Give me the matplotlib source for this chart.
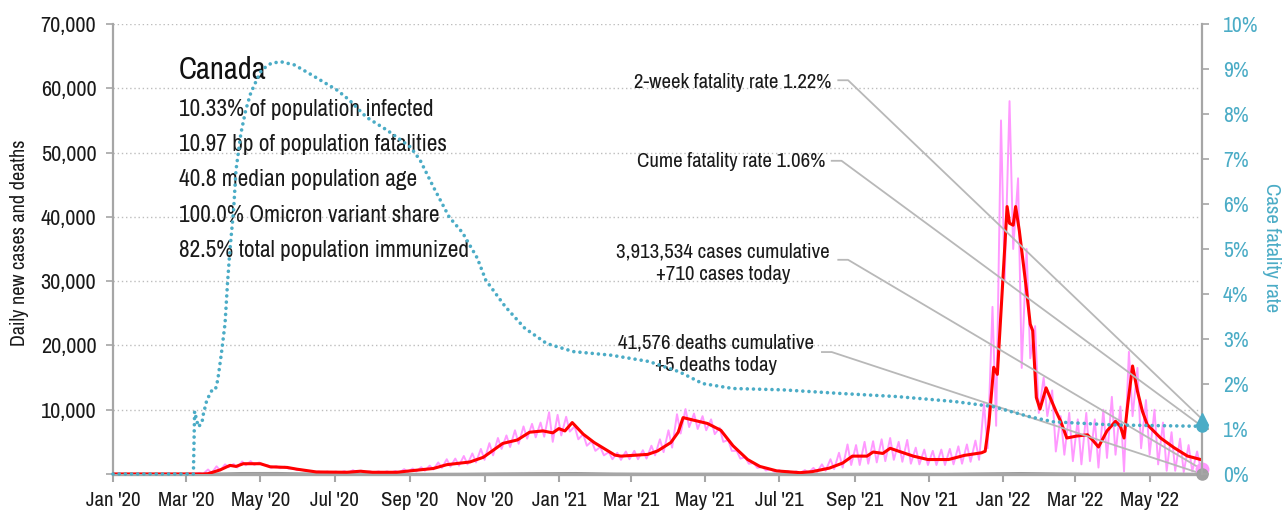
import matplotlib
matplotlib.use('Agg')
import matplotlib.pyplot as plt
import matplotlib.dates as mdates
import matplotlib.ticker as mticker
import pandas as pd

plt.rcParams['font.family'] = ['Archivo Narrow', 'Roboto Condensed', 'DejaVu Sans']

# --- данные ---
# 7-day average of new cases
red_dates = ['2020-01-01', '2020-03-15', '2020-03-19', '2020-03-29', '2020-04-06', '2020-04-11',
             '2020-04-17', '2020-05-01', '2020-05-09', '2020-05-23', '2020-05-31', '2020-06-16',
             '2020-07-11', '2020-07-22', '2020-08-01', '2020-08-21', '2020-09-03', '2020-09-20',
             '2020-10-01', '2020-10-20', '2020-10-31', '2020-11-16', '2020-11-28', '2020-12-08',
             '2020-12-19', '2020-12-27', '2021-01-01', '2021-01-06', '2021-01-12', '2021-01-21',
             '2021-01-30', '2021-02-16', '2021-02-21', '2021-03-15', '2021-03-23', '2021-04-03',
             '2021-04-09', '2021-04-13', '2021-04-21', '2021-05-03', '2021-05-14', '2021-05-24',
             '2021-06-05', '2021-06-15', '2021-06-29', '2021-07-18', '2021-07-28', '2021-08-11',
             '2021-08-22', '2021-08-30', '2021-09-11', '2021-09-16', '2021-09-24', '2021-09-30',
             '2021-10-08', '2021-10-19', '2021-10-31', '2021-11-17', '2021-11-30', '2021-12-14',
             '2021-12-17', '2021-12-20', '2021-12-24', '2021-12-27', '2021-12-31', '2022-01-04',
             '2022-01-06', '2022-01-09', '2022-01-11', '2022-01-14', '2022-01-20', '2022-01-23',
             '2022-01-25', '2022-01-28', '2022-01-31', '2022-02-05', '2022-02-13', '2022-02-17',
             '2022-02-22', '2022-03-02', '2022-03-11', '2022-03-16', '2022-03-20', '2022-03-27',
             '2022-04-03', '2022-04-07', '2022-04-10', '2022-04-13', '2022-04-17', '2022-04-21',
             '2022-04-25', '2022-04-29', '2022-05-10', '2022-05-21', '2022-06-01', '2022-06-13']
red_vals = [0, 0, 50, 640, 1340, 1180,
            1600, 1600, 1120, 1020, 750, 320,
            270, 430, 270, 270, 530, 860,
            1450, 1870, 2600, 4760, 5300, 6500,
            6700, 6400, 7060, 6700, 8000, 6200,
            4900, 2940, 2780, 3050, 3580, 4900,
            6500, 8770, 8400, 7860, 6800, 4390,
            2250, 1180, 480, 210, 370, 910,
            1700, 2780, 2780, 3420, 3200, 4000,
            3480, 2780, 2250, 2250, 2900, 3300,
            3540, 7700, 16600, 15500, 28500, 41600,
            39000, 38700, 41600, 37900, 28500, 23300,
            22300, 11900, 10100, 13400, 9800, 8200,
            5600, 5900, 6100, 5100, 4200, 6700,
            8200, 7400, 5600, 10800, 16800, 12900,
            9800, 7700, 5600, 4100, 2800, 2200]

# daily new cases: weekly high (Thursday) and low (Sunday), weeks from 2020-01-05
pink_hi = [0, 0, 0, 5, 5, 3, 3, 5,
           10, 40, 180, 700, 1200,
           1500, 1550, 1950, 2000,
           1800, 1350, 1250, 1150, 900,
           650, 450, 400, 380,
           380, 450, 600, 520,
           400, 420, 420, 480, 750,
           850, 1050, 1300, 1800,
           2300, 2400, 2800, 3200,
           3900, 4800, 5600, 6000, 6800,
           7400, 7800, 8000, 9600,
           9200, 8900, 7400, 6200, 5100,
           4200, 3400, 3300, 3500,
           3600, 3700, 4400, 5400,
           6800, 9300, 10100, 9400,
           9000, 8500, 7200, 5300, 3600,
           2600, 1700, 1100, 750,
           600, 480, 420, 600,
           950, 1500, 2300, 3300, 4600,
           4500, 5000, 5100, 5400,
           5600, 5000, 5300, 4100, 3800,
           3600, 3800, 3900, 4300,
           4600, 5200, 11000, 26000,
           55000, 58000, 46000, 35000, 23000,
           15000, 13000, 9000, 9500,
           8500, 9500, 8500, 10000,
           12000, 10500, 19000, 16500,
           11500, 10000, 8000, 6500, 5500,
           4500, 3500]
pink_lo = [0, 0, 0, 0, 0, 0, 0, 0,
           0, 5, 20, 150, 550,
           1050, 1000, 1350, 1400,
           1400, 950, 900, 850, 600,
           450, 280, 200, 180,
           180, 180, 280, 300,
           200, 180, 200, 200, 350,
           380, 500, 700, 950,
           1150, 1300, 1500, 1800,
           2200, 2900, 3900, 4200, 4700,
           5500, 5700, 5800, 5000,
           6000, 6600, 5400, 4400, 3600,
           2900, 2300, 2200, 2300,
           2300, 2400, 2900, 3400,
           4100, 6300, 7300, 7000,
           6800, 6200, 5000, 3600, 2400,
           1600, 950, 550, 330,
           180, 140, 110, 180,
           300, 500, 750, 1000, 1400,
           1400, 1600, 1800, 2000,
           2200, 1900, 1600, 1500, 1400,
           1400, 1400, 1500, 1600,
           1900, 2200, 4000, 7500,
           30000, 35000, 16500, 18000, 9500,
           9000, 3500, 3000, 2000,
           1500, 2000, 1000, 2500,
           3000, 400, 9000, 4000,
           3000, 1500, 500, 500, 300,
           400, 700]

# daily deaths (gray, monthly reading)
death_dates = ['2020-01-01', '2020-03-15', '2020-04-15', '2020-05-15', '2020-06-15', '2020-07-15',
               '2020-09-15', '2020-10-15', '2020-11-15', '2020-12-15', '2021-01-15', '2021-02-15',
               '2021-03-15', '2021-05-15', '2021-06-15', '2021-08-15', '2021-09-15', '2021-11-15',
               '2022-01-15', '2022-02-15', '2022-03-15', '2022-05-15', '2022-06-13']
death_vals = [0, 10, 150, 160, 50, 10, 8, 25, 80, 120, 150, 60, 35, 40, 20, 10, 35, 20, 150, 80,
              40, 60, 5]

# case fatality rate, %
cfr_dates = ['2020-01-01', '2020-03-07', '2020-03-08', '2020-03-11', '2020-03-14', '2020-03-15',
             '2020-03-18', '2020-03-22', '2020-03-25', '2020-03-27', '2020-03-30', '2020-04-02',
             '2020-04-04', '2020-04-06', '2020-04-09', '2020-04-11', '2020-04-15', '2020-04-19',
             '2020-04-23', '2020-04-28', '2020-05-02', '2020-05-10', '2020-05-18', '2020-05-29',
             '2020-06-12', '2020-07-03', '2020-07-13', '2020-07-27', '2020-08-13', '2020-09-01',
             '2020-09-09', '2020-09-20', '2020-10-03', '2020-10-14', '2020-10-26', '2020-11-02',
             '2020-11-18', '2020-12-04', '2020-12-22', '2021-01-13', '2021-02-13', '2021-03-16',
             '2021-04-10', '2021-04-29', '2021-05-24', '2021-07-04', '2021-08-20', '2021-10-06',
             '2021-11-22', '2021-12-23', '2022-01-23', '2022-02-11', '2022-04-01', '2022-06-13']
cfr_vals = [0.0, 0.0, 1.39, 1.05, 1.13, 1.31,
            1.64, 1.85, 1.87, 2.09, 2.68, 3.35,
            4.24, 4.98, 5.87, 6.76, 7.57, 8.09,
            8.46, 8.76, 8.98, 9.13, 9.16, 9.09,
            8.87, 8.53, 8.31, 7.93, 7.64, 7.27,
            6.98, 6.38, 5.71, 5.36, 4.80, 4.31,
            3.72, 3.24, 2.90, 2.72, 2.64, 2.50,
            2.27, 2.01, 1.90, 1.87, 1.79, 1.72,
            1.61, 1.50, 1.27, 1.16, 1.09, 1.06]

last_day = '2022-06-13'
cases_today = 710
deaths_today = 5
cfr_2wk = 1.22
cfr_cume = 1.06

info_lines = ['10.33% of population infected', '10.97 bp of population fatalities',
              '40.8 median population age', '100.0% Omicron variant share',
              '82.5% total population immunized']

PINK = '#ff99ff'
RED = '#ff0000'
TEAL = '#4bacc6'
GRAY = '#a6a6a6'
LEAD = '#b8b8b8'
INK = '#1a1a1a'

# daily series: hi on Thursday, lo on Sunday
weeks = pd.date_range('2020-01-05', periods=len(pink_lo), freq='7D')
pink_x, pink_y = [], []
for w, hi, lo in zip(weeks, pink_hi, pink_lo):
    pink_x += [w - pd.Timedelta(days=3), w]
    pink_y += [hi, lo]
pink_x.append(pd.Timestamp(last_day))
pink_y.append(cases_today)

fig = plt.figure(figsize=(12.82, 5.11), dpi=100)
ax = fig.add_axes([113 / 1282, 1 - 474 / 511, 1089 / 1282, 450 / 511])
ax2 = ax.twinx()

ax.plot(pink_x, pink_y, color=PINK, lw=1.4, zorder=2)
ax.plot(pd.to_datetime(red_dates), red_vals, color=RED, lw=2.2, zorder=3)
ax.plot(pd.to_datetime(death_dates), death_vals, color='#9a9a9a', lw=1.5, zorder=2)
ax2.plot(pd.to_datetime(cfr_dates), cfr_vals, color=TEAL, lw=2.6,
         linestyle=(0, (0.01, 1.7)), dash_capstyle='round', clip_on=False)

end = pd.Timestamp(last_day)
ax.set_xlim(pd.Timestamp('2020-01-01'), end)
ax.set_ylim(0, 70000)
ax2.set_ylim(0, 10)

# end markers
ax.plot([end], [cases_today], 'o', color=PINK, ms=9, clip_on=False, zorder=6)
ax.plot([end], [deaths_today], 'o', color='#a0a0a0', ms=8, clip_on=False, zorder=7)
ax2.plot([end], [cfr_2wk], '^', color=TEAL, ms=8, clip_on=False, zorder=6)
ax2.plot([end], [cfr_cume], 'o', color=TEAL, ms=8, clip_on=False, zorder=6)

# axes styling
ax.xaxis.set_major_locator(mdates.MonthLocator(bymonth=[1, 3, 5, 7, 9, 11]))
ax.xaxis.set_major_formatter(mdates.DateFormatter("%b '%y"))
ax.set_yticks(range(0, 70001, 10000))
ax.yaxis.set_major_formatter(mticker.FuncFormatter(lambda v, p: '' if v == 0 else f'{int(v):,}'))
ax2.set_yticks(range(0, 11))
ax2.yaxis.set_major_formatter(mticker.FuncFormatter(lambda v, p: f'{int(v)}%'))

ax.yaxis.grid(True, linestyle=(0, (1, 2)), color='#bdbdbd', lw=1)
ax.set_axisbelow(True)

for s in ['top', 'right']:
    ax.spines[s].set_visible(False)
for s in ['top', 'left', 'bottom']:
    ax2.spines[s].set_visible(False)
ax.spines['bottom'].set_color(GRAY)
ax.spines['bottom'].set_linewidth(2.4)
ax.spines['left'].set_color(GRAY)
ax.spines['left'].set_linewidth(1.6)
ax2.spines['right'].set_color(GRAY)
ax2.spines['right'].set_linewidth(1.6)

ax.tick_params(axis='x', length=6, width=1.5, color=GRAY, labelsize=15, pad=6, labelcolor=INK)
ax.tick_params(axis='y', length=5, width=1.2, color=GRAY, labelsize=16, pad=7, labelcolor=INK)
ax2.tick_params(axis='y', length=5, width=1.2, color=GRAY, labelsize=15.5, pad=10, labelcolor=TEAL)

fig.text(20 / 1282, 1 - 243 / 511, 'Daily new cases and deaths', rotation=90,
         ha='center', va='center', fontsize=14.5, color=INK)
fig.text(1272 / 1282, 1 - 248 / 511, 'Case fatality rate', rotation=270,
         ha='center', va='center', fontsize=15, color=TEAL)

# info block
ax.text(0.0606, 0.898, 'Canada', transform=ax.transAxes, fontsize=22, fontweight='bold',
        ha='left', va='center', color='#111111')
for i, line in enumerate(info_lines):
    ax.text(0.0606, 0.811 - i * 0.0785, line, transform=ax.transAxes, fontsize=16.8,
            ha='left', va='center', color=INK)

# annotations with leader lines
def to_axes(axis, x, y):
    return ax.transAxes.inverted().transform(axis.transData.transform((mdates.date2num(x), y)))

notes = [
    ('2-week fatality rate 1.22%', (0.660, 0.871), 'right', (0.666, 0.875), ax2, cfr_2wk),
    ('Cume fatality rate 1.06%', (0.654, 0.694), 'right', (0.660, 0.696), ax2, cfr_cume),
    ('3,913,534 cases cumulative\n+710 cases today', (0.560, 0.468), 'center', (0.666, 0.476), ax, cases_today),
    ('41,576 deaths cumulative\n+5 deaths today', (0.554, 0.266), 'center', (0.651, 0.271), ax, deaths_today),
]
for txt, (tx, ty), ha, (sx, sy), axis, val in notes:
    ax.text(tx, ty, txt, transform=ax.transAxes, fontsize=15, ha=ha,
            va='center', multialignment='center', linespacing=1.2, color=INK, zorder=8)
    gx, gy = to_axes(axis, end, val)
    ax.plot([sx, sx + 0.009, gx], [sy, sy, gy], color=LEAD, lw=1.3, transform=ax.transAxes,
            clip_on=False, zorder=5)

fig.savefig('out.png', dpi=100)
